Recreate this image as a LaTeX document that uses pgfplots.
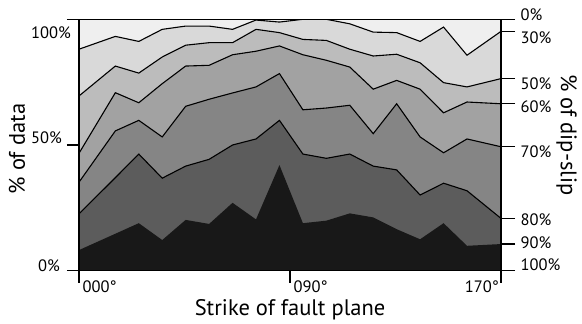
\documentclass[border=0pt]{standalone}
\usepackage{fontspec}
\setmainfont{PT Sans}
\usepackage{pgfplots}
\pgfplotsset{compat=1.18}
\usepackage{pgfplotstable}

\definecolor{b1}{HTML}{EFEFEF}
\definecolor{b2}{HTML}{D9D9D9}
\definecolor{b3}{HTML}{BCBCBC}
\definecolor{b4}{HTML}{A2A2A2}
\definecolor{b5}{HTML}{858585}
\definecolor{b6}{HTML}{5C5C5C}
\definecolor{b7}{HTML}{181818}

\pgfplotstableread{
x     l1    l2    l3    l4    l5    l6
0     88.1  69.5  46.7  35.2  22.6  8.2
15.5  93.2  81.4  70.8  55.6  37.0  14.7
25.5  91.2  78.6  66.8  59.8  46.4  18.9
35.5  96.0  85.0  74.4  53.2  36.8  12.2
45.5  97.3  89.7  81.4  65.4  41.6  20.2
55.5  97.3  90.7  81.7  68.2  44.3  18.6
65.5  96.0  90.7  85.9  70.7  50.0  27.0
75.5  99.7  96.0  87.3  73.1  52.4  20.4
85.5  98.9  94.7  89.4  78.4  59.8  42.0
95.5  100   92.0  85.9  64.0  46.4  18.9
105.5 100   91.6  83.7  64.7  44.7  19.9
115.5 98.2  88.1  81.0  65.8  46.4  22.8
125.5 94.9  85.4  72.2  54.5  41.6  21.2
135.5 94.7  86.1  75.7  66.4  40.1  16.5
145.5 91.2  82.7  72.2  53.2  30.1  12.5
155.5 96.9  74.8  62.8  46.9  34.8  18.9
165.5 85.7  73.1  67.1  52.4  31.8  9.9
180   95.2  76.4  66.4  49.3  20.8  10.6
}\strikedata

\begin{document}
\begin{tikzpicture}[font=\fontsize{16.5}{19}\selectfont]
\path (-79pt,-50.3pt) rectangle (503pt,270.7pt);
\begin{axis}[
  at={(0,0)}, anchor=south west,
  scale only axis, width=422pt, height=251.4pt,
  xmin=0, xmax=180, ymin=0, ymax=100,
  axis line style={line width=1.1pt},
  xtick={0,90,180}, ytick={0,50,100},
  xticklabels={}, yticklabels={},
  xtick pos=bottom, ytick pos=left,
  tick align=outside, major tick length=12pt,
  tick style={black, line width=1.1pt},
  axis on top, clip=true,
]
\addplot[fill=b1, draw=none] coordinates {(0,100) (180,100)} \closedcycle;
\addplot[fill=b2, draw=none] table[x=x,y=l1]{\strikedata} \closedcycle;
\addplot[black, line width=1.1pt] table[x=x,y=l1]{\strikedata};
\addplot[fill=b3, draw=none] table[x=x,y=l2]{\strikedata} \closedcycle;
\addplot[black, line width=1.1pt] table[x=x,y=l2]{\strikedata};
\addplot[fill=b4, draw=none] table[x=x,y=l3]{\strikedata} \closedcycle;
\addplot[black, line width=1.1pt] table[x=x,y=l3]{\strikedata};
\addplot[fill=b5, draw=none] table[x=x,y=l4]{\strikedata} \closedcycle;
\addplot[black, line width=1.1pt] table[x=x,y=l4]{\strikedata};
\addplot[fill=b6, draw=none] table[x=x,y=l5]{\strikedata} \closedcycle;
\addplot[black, line width=1.1pt] table[x=x,y=l5]{\strikedata};
\addplot[fill=b7, draw=none] table[x=x,y=l6]{\strikedata} \closedcycle;
\end{axis}
\begin{axis}[
  at={(0,0)}, anchor=south west,
  scale only axis, width=422pt, height=251.4pt,
  xmin=0, xmax=180, ymin=0, ymax=100,
  axis x line=none, axis y line*=right,
  y axis line style={-, line width=1.1pt},
  ytick={0,10.6,20.8,49.3,66.4,76.4,95.2,100},
  yticklabels={},
  tick align=outside, major tick length=14pt,
  tick style={black, line width=1.1pt},
  clip=false,
]
\node[anchor=west] at ([xshift=16pt]axis cs:180,101.7) {0\%};
\node[anchor=west] at ([xshift=16pt]axis cs:180,92.6) {30\%};
\node[anchor=west] at ([xshift=16pt]axis cs:180,74.3) {50\%};
\node[anchor=west] at ([xshift=16pt]axis cs:180,65.1) {60\%};
\node[anchor=west] at ([xshift=16pt]axis cs:180,47.2) {70\%};
\node[anchor=west] at ([xshift=16pt]axis cs:180,20.2) {80\%};
\node[anchor=west] at ([xshift=16pt]axis cs:180,11.0) {90\%};
\node[anchor=west] at ([xshift=16pt]axis cs:180,2.3) {100\%};
\node[anchor=east, inner sep=0pt] at ([xshift=-8pt]axis cs:0,94.5) {100\%};
\node[anchor=east, inner sep=0pt] at ([xshift=-17pt]axis cs:0,52.8) {50\%};
\node[anchor=east, inner sep=0pt] at ([xshift=-19pt]axis cs:0,1.9) {0\%};
\node[anchor=west, inner sep=0pt] at ([xshift=3.5pt,yshift=-16pt]axis cs:0,0) {000°};
\node[anchor=west, inner sep=0pt] at ([xshift=3.5pt,yshift=-16pt]axis cs:90,0) {090°};
\node[anchor=east, inner sep=0pt] at ([xshift=-2pt,yshift=-16pt]axis cs:180,0) {170°};
\node[anchor=base, font=\fontsize{22.5}{26}\selectfont] at ([yshift=-45.3pt]rel axis cs:0.5,0) {Strike of fault plane};
\node[anchor=base, rotate=90, font=\fontsize{22.5}{26}\selectfont] at ([xshift=-54pt]rel axis cs:0,0.484) {\% of data};
\node[anchor=base, rotate=-90, font=\fontsize{22.5}{26}\selectfont] at ([xshift=60pt]rel axis cs:1,0.54) {\% of dip-slip};
\end{axis}
\end{tikzpicture}
\end{document}
